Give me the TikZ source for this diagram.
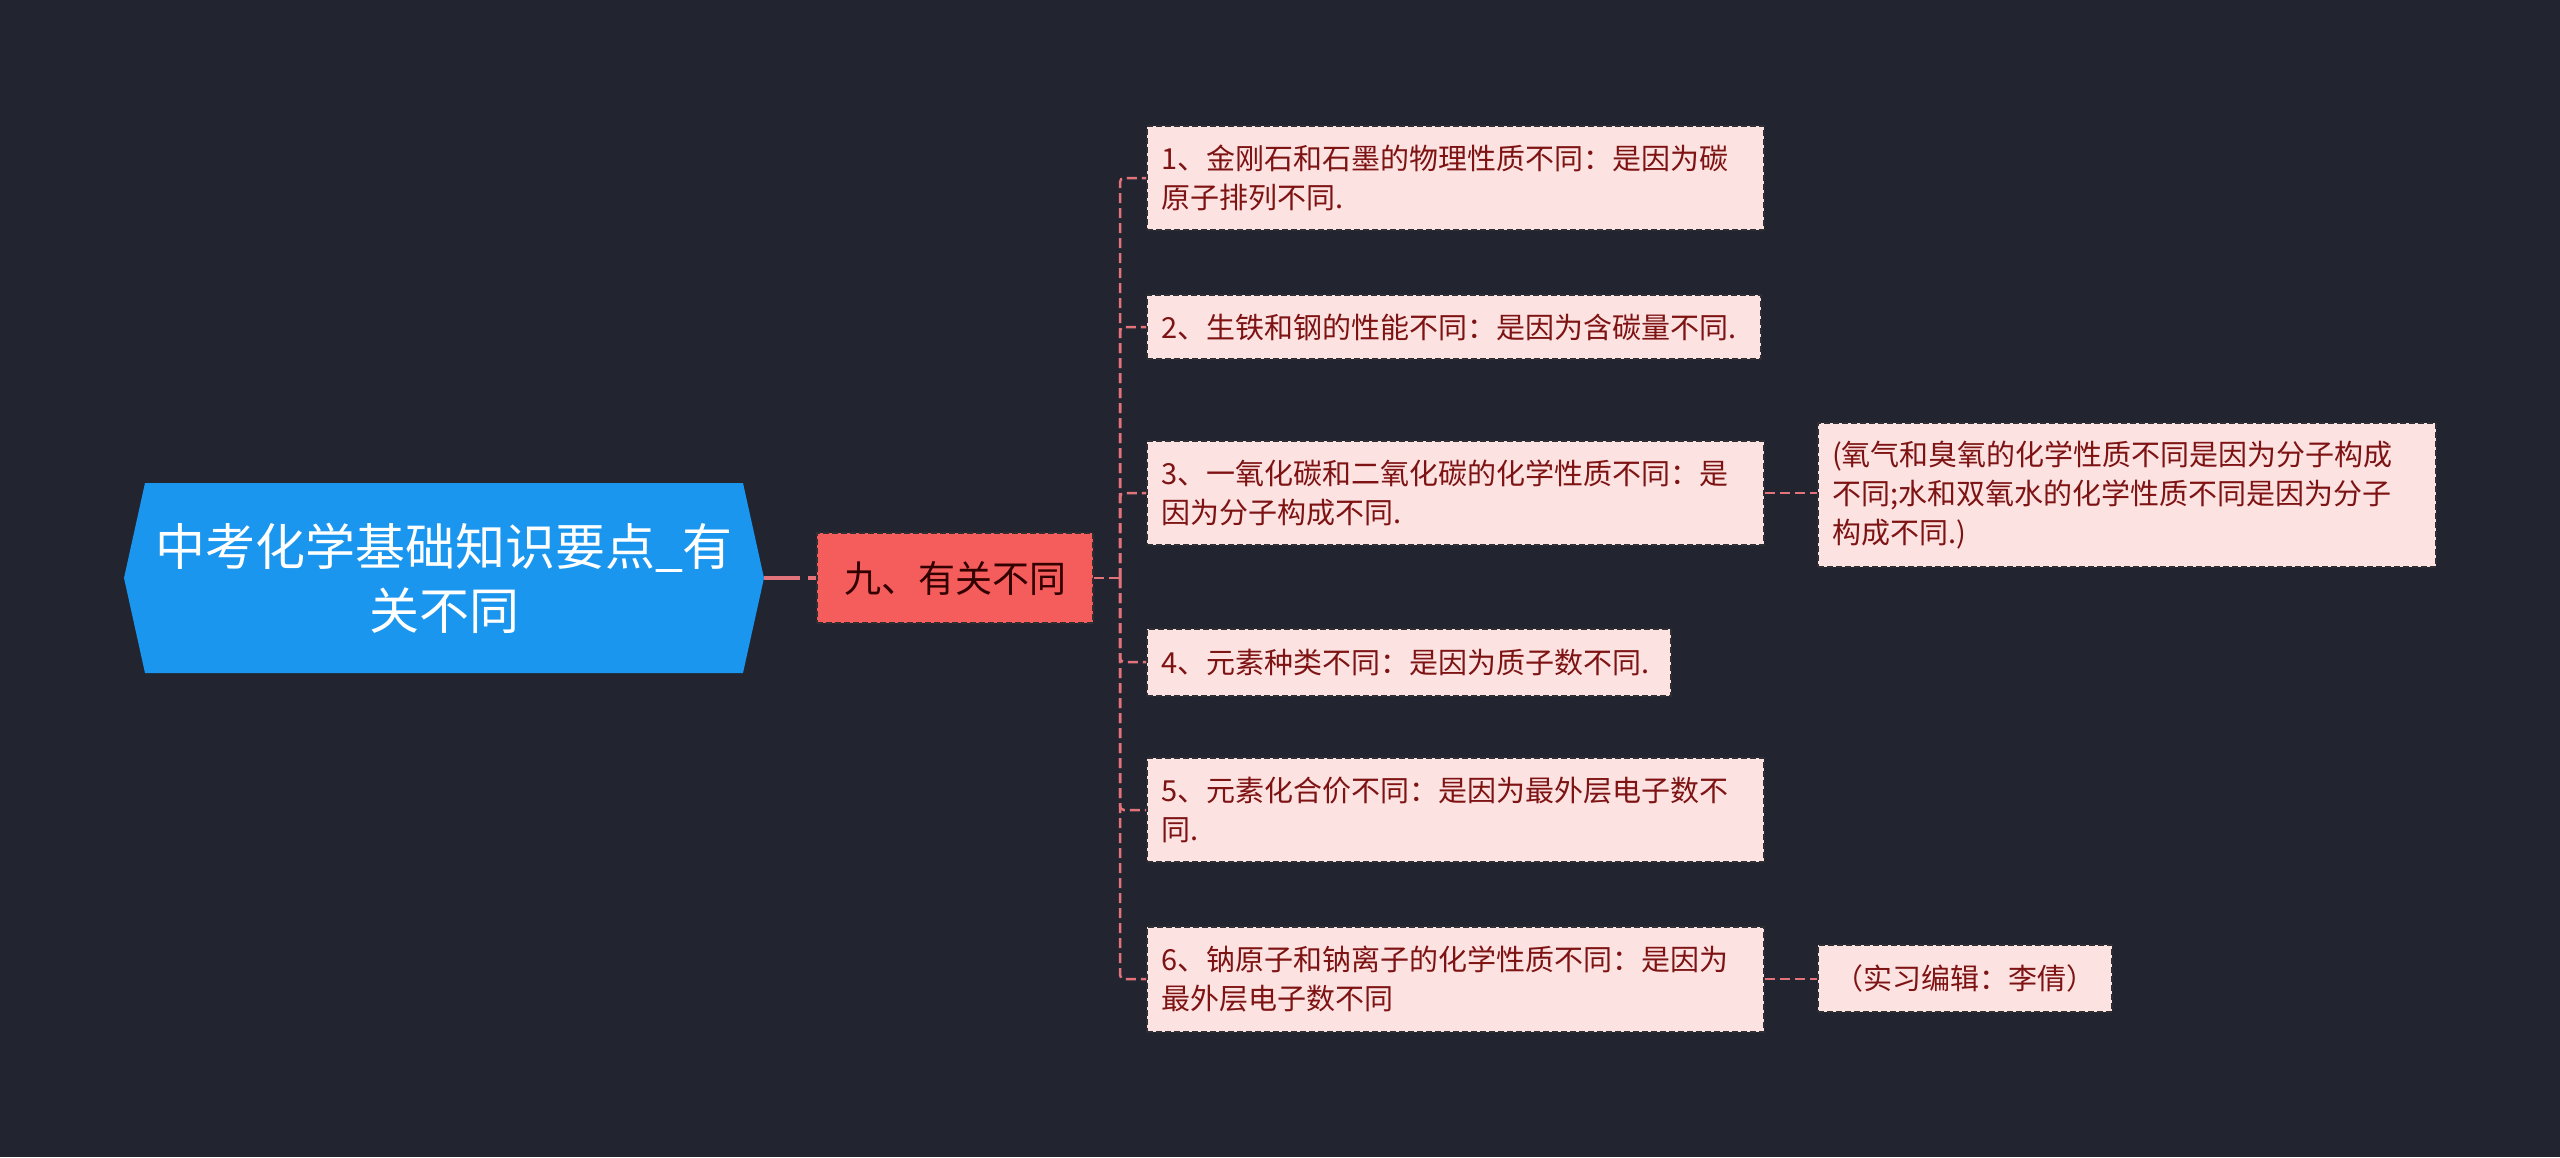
\documentclass[tikz,border=0pt]{standalone}
\usepackage{fontspec}
\setmainfont{Noto Sans CJK SC}
\usetikzlibrary{positioning}
\definecolor{bgdark}{HTML}{22252F}
\definecolor{rootblue}{HTML}{1A96EF}
\definecolor{topicred}{HTML}{F55D5D}
\definecolor{leafpink}{HTML}{FDE2E2}
\definecolor{leafred}{HTML}{7D1313}
\definecolor{edgegray}{HTML}{2E2E33}
\definecolor{linkred}{HTML}{E2737A}

\begin{document}
\begin{tikzpicture}[x=1pt, y=-1pt,
  topic/.style={rectangle, draw=edgegray, fill=topicred, line width=2pt,
                dash pattern=on 6pt off 3pt, text=black!80!red,
                font=\fontsize{37}{44}\selectfont, minimum width=276pt,
                minimum height=90pt, inner sep=0pt},
  leaf/.style={rectangle, draw=edgegray, fill=leafpink, line width=2pt,
               dash pattern=on 6pt off 3pt, text=leafred, anchor=west,
               font=\fontsize{29}{39}\selectfont, align=left,
               inner xsep=14pt, inner ysep=0pt},
  conn/.style={draw=linkred, line width=2.5pt, dash pattern=on 10pt off 5pt},
]
  \useasboundingbox (0,0) rectangle (2560,1157);
  \fill[bgdark] (0,0) rectangle (2560,1157);

  % root
  \fill[rootblue] (124,578) -- (145,483) -- (743,483) -- (764,578)
    -- (743,673) -- (145,673) -- cycle;
  \node[text=white, font=\fontsize{50}{64}\selectfont, align=center,
        minimum width=640pt, minimum height=190pt, inner sep=0pt]
    (r) at (444,578) {中考化学基础知识要点\_有\\关不同};

  \node[topic] (k) at (955,578) {九、有关不同};

  % leaves
  \node[leaf, text width=589pt, minimum height=104pt] (n1) at (1146,178)
    {1、金刚石和石墨的物理性质不同：是因为碳\\原子排列不同.};
  \node[leaf, text width=586pt, minimum height=64pt] (n2) at (1146,327)
    {2、生铁和钢的性能不同：是因为含碳量不同.};
  \node[leaf, text width=589pt, minimum height=104pt] (n3) at (1146,493)
    {3、一氧化碳和二氧化碳的化学性质不同：是\\因为分子构成不同.};
  \node[leaf, text width=496pt, minimum height=67pt] (n4) at (1146,662)
    {4、元素种类不同：是因为质子数不同.};
  \node[leaf, text width=589pt, minimum height=104pt] (n5) at (1146,810)
    {5、元素化合价不同：是因为最外层电子数不\\同.};
  \node[leaf, text width=589pt, minimum height=105pt] (n6) at (1146,979)
    {6、钠原子和钠离子的化学性质不同：是因为\\最外层电子数不同};

  \node[leaf, text width=590pt, minimum height=144pt] (c3) at (1817,495)
    {(氧气和臭氧的化学性质不同是因为分子构成\\不同;水和双氧水的化学性质不同是因为分子\\构成不同.)};
  \node[leaf, text width=266pt, minimum height=67pt, align=center] (c6) at (1817,978)
    {（实习编辑：李倩）};

  % connectors
  \coordinate (hub) at (1120,578);
  \draw[conn, line width=3.5pt, dash pattern=on 36pt off 8pt] (r.east) -- (k.west);
  \draw[conn] (k.east) -- (hub);
  \foreach \n in {n1,n2,n3,n4,n5,n6}
    \draw[conn, rounded corners=4pt] (hub) |- (\n.west);
  \draw[conn] (n3.east) -- (n3.east -| c3.west);
  \draw[conn] (n6.east) -- (n6.east -| c6.west);
\end{tikzpicture}
\end{document}
